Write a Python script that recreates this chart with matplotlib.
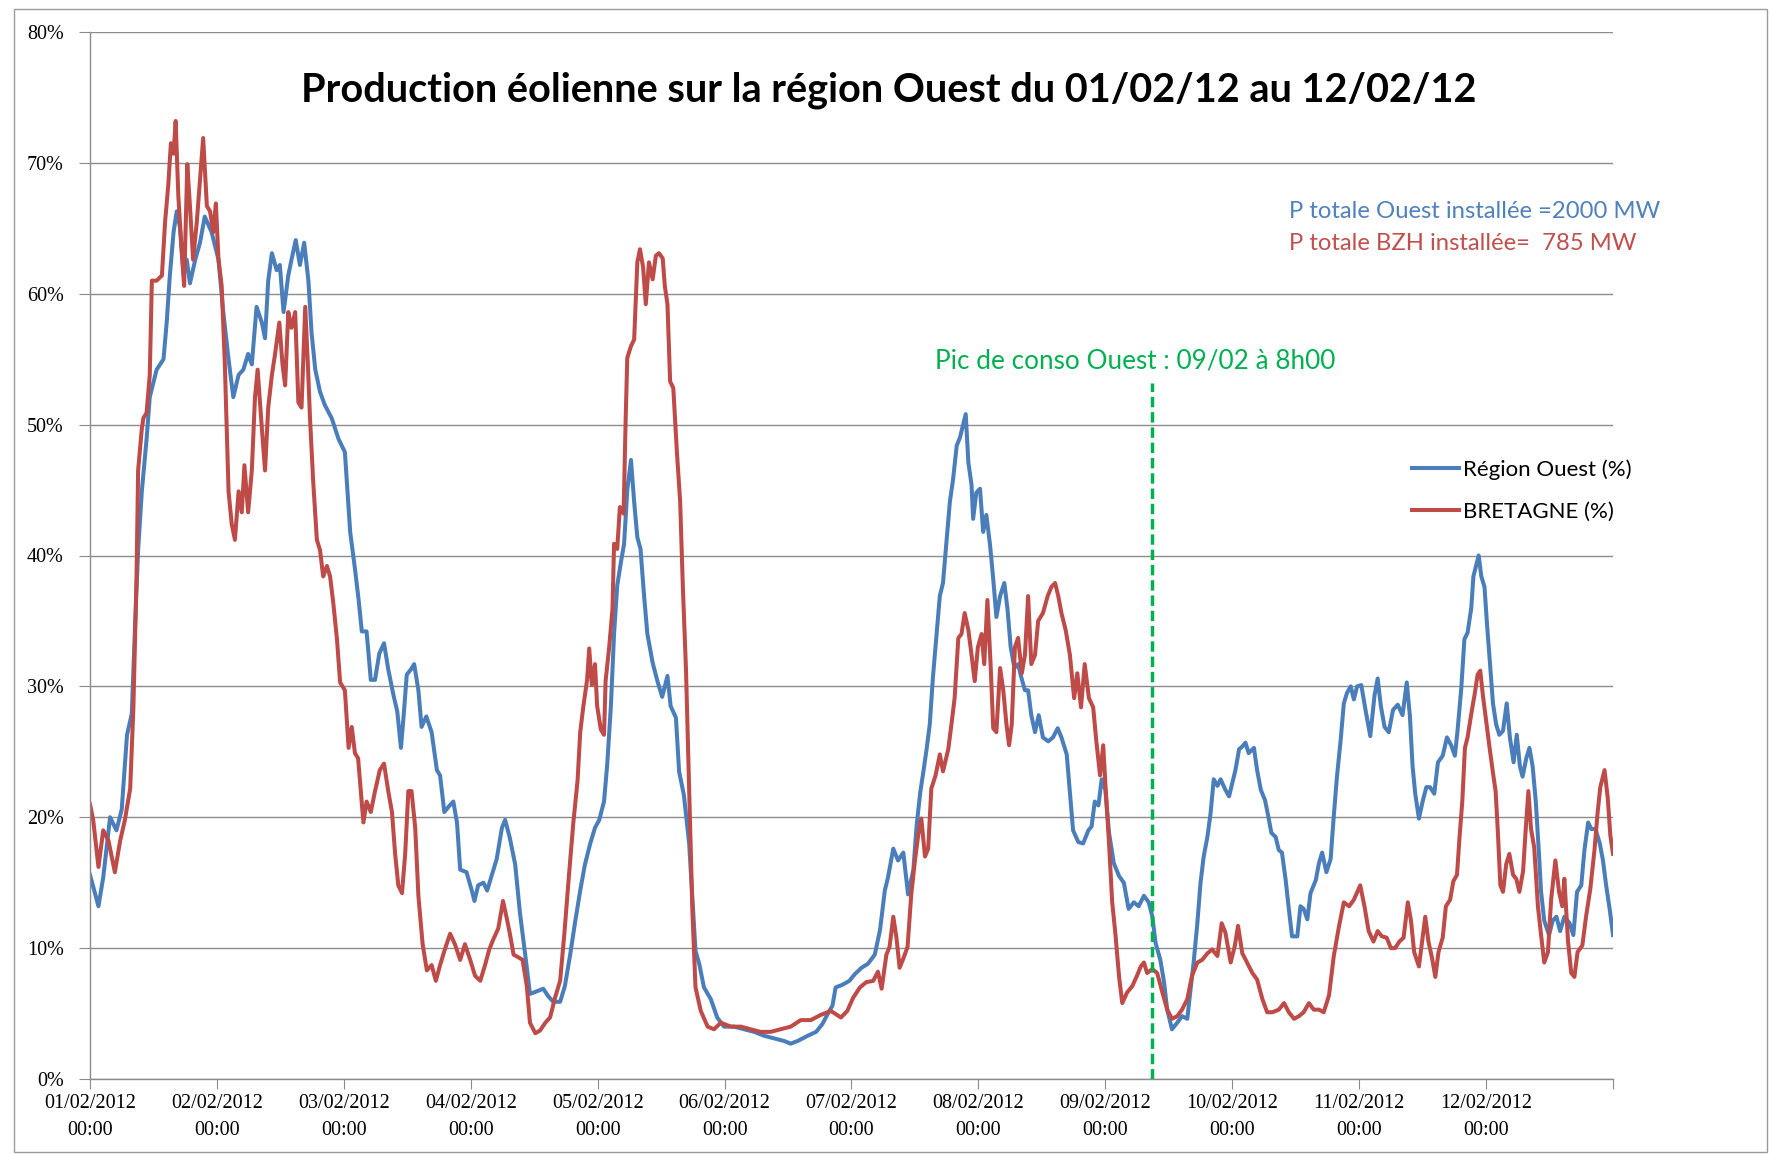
import matplotlib
matplotlib.use("Agg")
import matplotlib.pyplot as plt
from matplotlib.patches import Rectangle

# Heures depuis le 01/02/2012 00:00 et production en % de la puissance installée
h_ouest = [0, 1.6, 2.5, 3.8, 5, 6, 7, 7.9, 8.5, 9.1, 9.8, 10.7, 11.3, 12.6, 13.9, 14.5, 15.1, 15.8, 16.4, 17,
           17.7, 18.3, 18.9, 19.9, 20.8, 21.7, 23, 24.3, 25.2, 26.2, 27.1, 28.1, 29, 29.9, 30.6, 31.5, 32.5, 33.1,
           33.7, 34.4, 35.3, 35.9, 36.6, 37.5, 38.1, 38.9, 39.7, 40.5, 41.3, 41.9, 42.6, 43.5, 44.4, 45.7, 47,
           48.2, 49.2, 50.1, 50.8, 51.4, 52.3, 53.1, 53.9, 54.7, 55.6, 56.4, 57.4, 58.1, 58.8, 59.3, 59.9, 60.7,
           61.3, 62.1, 62.7, 63.6, 64.6, 65.6, 66.2, 67, 67.8, 68.7, 69.4, 70, 71.2, 72.2, 72.7, 73.4, 74.4, 75.1,
           76, 76.9, 77.9, 78.5, 79.4, 80.4, 81.3, 82.3, 83.2, 84.5, 85.7, 86.7, 87.6, 88.9, 89.8, 90.8, 91.7,
           92.7, 93.6, 94.6, 95.5, 96.3, 97.2, 97.8, 98.5, 99.1, 99.7, 100.4, 101, 101.6, 102.3, 102.9, 103.5,
           104.1, 104.8, 105.4, 106.4, 107.3, 108.2, 109.2, 109.8, 110.8, 111.4, 112.3, 113.3, 113.9, 114.5,
           115.2, 116.1, 117.4, 118.6, 119.9, 121.8, 123.7, 125.6, 127.5, 129.4, 131.3, 132.5, 133.8, 135.7,
           137.3, 138.5, 139.8, 140.4, 141, 142.3, 143.6, 144.6, 145.9, 147.1, 148.4, 149.4, 150.3, 150.9, 151.9,
           152.8, 153.8, 154.7, 155.7, 156.3, 157, 157.6, 158.2, 158.8, 159.4, 160.1, 160.7, 161.3, 162, 162.6,
           163.2, 163.9, 164.5, 165.1, 165.6, 166.1, 166.7, 167, 167.6, 168.3, 168.9, 169.5, 170.2, 170.8, 171.4,
           172.1, 172.9, 173.5, 174.1, 174.8, 175.5, 176.1, 176.8, 177.4, 178, 178.7, 179.4, 180.2, 181.2, 182.1,
           183, 183.7, 184.7, 185.3, 185.9, 186.9, 187.8, 188.8, 189.4, 190, 190.7, 191.3, 192, 192.7, 193.6,
           194.6, 195.5, 196.4, 197.4, 198.3, 199.3, 200.2, 200.9, 201.5, 202.4, 203.1, 203.7, 204.6, 205.6,
           206.5, 207.5, 208.1, 208.7, 209.4, 210, 210.6, 211.3, 211.9, 212.5, 213.2, 213.8, 214.7, 215.4, 216,
           216.6, 217.3, 217.9, 218.5, 219.1, 220.1, 220.7, 221.4, 222.2, 222.8, 223.4, 224.2, 224.8, 225.4,
           226.1, 226.7, 227.3, 228.3, 228.9, 229.5, 230.2, 230.8, 231.8, 232.4, 233, 233.8, 234.6, 235.2, 235.8,
           236.5, 237.1, 237.7, 238.4, 239, 239.6, 240.4, 241.2, 242.1, 242.9, 243.5, 244.1, 244.8, 245.6, 246.4,
           247.3, 248.2, 249, 249.6, 250.1, 250.6, 251.3, 252, 252.7, 253.4, 254.2, 254.9, 255.8, 256.6, 257.4,
           258.1, 258.6, 259.3, 259.9, 260.5, 261.2, 261.6, 262.1, 262.6, 263.1, 263.7, 264.2, 264.6, 265.3,
           265.9, 266.5, 267.2, 267.9, 268.5, 269.2, 269.8, 270.4, 270.9, 271.6, 272.2, 272.8, 273.4, 274, 274.4,
           275, 275.9, 276.6, 277.3, 278, 278.8, 279.8, 280.5, 281.2, 282, 282.6, 283.3, 283.9, 284.7, 285.5,
           286.1, 286.7, 287.4, 288]
ouest = [15.6, 13.2, 15.4, 20.0, 19.0, 20.6, 26.3, 27.9, 34.4, 40.4, 44.9, 48.9, 52.1, 54.2, 55.0, 57.8, 61.4,
         64.7, 66.3, 65.1, 61.4, 62.6, 60.8, 62.6, 63.9, 65.9, 64.7, 62.6, 58.6, 55.0, 52.1, 53.8, 54.2, 55.4, 54.6,
         59.0, 57.8, 56.6, 61.0, 63.1, 61.8, 62.2, 58.6, 61.4, 62.6, 64.1, 62.2, 63.9, 61.0, 57.0, 54.2, 52.5, 51.5,
         50.5, 48.9, 47.9, 41.8, 39.0, 36.6, 34.2, 34.2, 30.5, 30.5, 32.5, 33.3, 31.3, 29.3, 28.1, 25.3, 27.7, 30.9,
         31.3, 31.7, 29.7, 26.9, 27.7, 26.5, 23.6, 23.2, 20.4, 20.8, 21.2, 19.6, 16.0, 15.8, 14.4, 13.6, 14.8, 15.0,
         14.4, 15.6, 16.8, 19.2, 19.8, 18.4, 16.4, 12.7, 9.5, 6.5, 6.7, 6.9, 6.3, 5.9, 5.9, 7.1, 9.5, 11.9, 14.4,
         16.4, 18.0, 19.2, 19.8, 21.2, 24.0, 28.5, 34.0, 37.7, 39.5, 40.9, 45.0, 47.3, 44.1, 41.4, 40.5, 36.8, 34.0,
         31.8, 30.4, 29.2, 30.8, 28.5, 27.6, 23.5, 21.7, 18.0, 13.9, 9.8, 8.8, 7.0, 6.1, 4.7, 4.0, 4.0, 3.8, 3.6,
         3.3, 3.1, 2.9, 2.7, 2.9, 3.3, 3.6, 4.2, 5.2, 5.6, 7.0, 7.2, 7.5, 8.0, 8.5, 8.8, 9.5, 11.4, 14.4, 15.4,
         17.6, 16.7, 17.3, 14.1, 16.0, 19.3, 21.9, 23.5, 25.2, 27.1, 30.7, 34.0, 36.9, 37.9, 41.2, 44.1, 45.8,
         48.4, 49.0, 50.0, 50.8, 47.1, 45.4, 42.8, 44.8, 45.1, 41.8, 43.1, 40.8, 38.2, 35.3, 36.9, 37.9, 35.9,
         33.0, 31.4, 31.7, 30.7, 29.7, 29.7, 27.8, 26.5, 27.8, 26.1, 25.8, 26.1, 26.8, 26.1, 24.8, 21.9, 19.0,
         18.1, 18.0, 19.0, 19.3, 21.2, 20.9, 22.9, 22.1, 18.8, 16.5, 15.5, 15.0, 13.0, 13.5, 13.2, 14.0, 13.5,
         12.4, 10.4, 9.1, 7.4, 5.3, 3.8, 4.3, 4.8, 4.6, 6.8, 8.9, 11.9, 15.0, 17.0, 18.5, 20.3, 22.9, 22.4, 22.9,
         22.1, 21.6, 22.6, 23.6, 25.2, 25.4, 25.7, 24.9, 25.3, 23.6, 22.1, 21.3, 20.1, 18.8, 18.5, 17.5, 17.3,
         15.2, 13.0, 10.9, 10.9, 13.2, 13.0, 12.2, 14.2, 15.2, 16.5, 17.3, 15.8, 16.8, 20.1, 23.1, 25.9, 28.7,
         29.5, 30.0, 29.0, 30.0, 30.1, 28.2, 26.2, 29.3, 30.6, 28.5, 26.9, 26.5, 28.2, 28.6, 27.8, 30.3, 27.7,
         23.9, 21.8, 19.9, 21.2, 22.3, 22.3, 21.8, 24.2, 24.7, 26.1, 25.5, 24.7, 26.6, 29.8, 33.6, 34.1, 36.0,
         38.4, 39.2, 40.0, 38.4, 37.6, 34.6, 32.5, 28.7, 27.1, 26.3, 26.6, 28.7, 26.1, 24.2, 26.3, 23.9, 23.1,
         24.5, 25.3, 23.9, 21.2, 17.2, 14.3, 12.1, 11.0, 12.1, 12.4, 11.3, 12.4, 11.9, 11.0, 14.3, 14.8, 17.5,
         19.6, 19.1, 19.1, 18.0, 16.7, 14.8, 12.9, 11.0]

h_bzh = [0, 0.6, 1.6, 2.5, 3.5, 4.7, 5.7, 6.6, 7.6, 8.2, 8.8, 9.1, 9.8, 10.1, 10.7, 11.3, 11.7, 12.6, 13.6, 14.2,
         14.8, 15.3, 15.8, 16.2, 16.7, 17.3, 17.8, 18.4, 18.9, 19.5, 20.2, 20.8, 21.4, 22.1, 22.7, 23.3, 23.8,
         24.3, 24.9, 25.5, 26.2, 26.8, 27.4, 28.1, 28.7, 29.2, 29.9, 30.6, 31.2, 31.7, 32.5, 33.1, 33.7, 34.4, 35,
         35.8, 36.4, 36.9, 37.5, 38.1, 38.8, 39.4, 40, 40.7, 41.2, 41.6, 42.2, 42.9, 43.5, 44.1, 44.8, 45.4, 46,
         46.7, 47.3, 48.2, 48.9, 49.5, 50.1, 50.7, 51.7, 52.3, 53.1, 53.9, 54.8, 55.6, 56.4, 57.1, 57.7, 58.3,
         59, 59.6, 60.2, 60.8, 61.5, 62.1, 62.9, 63.7, 64.6, 65.4, 66.2, 67.1, 68.1, 69, 70, 70.9, 71.9, 72.8,
         73.8, 74.7, 75.5, 76.3, 77.2, 78.1, 78.8, 79.4, 80.1, 81, 81.8, 82.6, 83.2, 84.2, 85.1, 86.1, 87, 88,
         88.9, 89.7, 90.5, 91.4, 92.2, 92.7, 93.3, 94, 94.4, 94.9, 95.5, 95.9, 96.6, 97.2, 97.5, 98.2, 98.8,
         99.1, 99.7, 100.2, 100.9, 101.3, 101.6, 102.3, 102.9, 103.5, 104, 104.6, 105.1, 105.7, 106.4, 107,
         107.6, 108.3, 108.7, 109.2, 109.7, 110.3, 111, 111.6, 112.1, 112.7, 113.3, 113.9, 114.5, 115.5, 116.8,
         118, 119.3, 121.2, 123.1, 124.9, 126.8, 128.7, 130.6, 132.5, 134.4, 136.3, 138.2, 140.1, 142, 143.2,
         144.3, 145.6, 146.8, 148.1, 149, 149.7, 150.6, 151.2, 151.9, 152.5, 153.1, 153.8, 154.6, 155.3, 156,
         156.6, 157.2, 157.9, 158.5, 159.1, 159.9, 160.7, 161.3, 162.3, 162.9, 163.5, 164.2, 164.8, 165.4, 166.1,
         166.7, 167.3, 167.9, 168.6, 169.1, 169.7, 170.3, 170.8, 171.4, 172.1, 172.7, 173.3, 173.8, 174.3, 174.9,
         175.5, 176.2, 176.8, 177.4, 178, 178.7, 179.3, 180.2, 181.1, 181.8, 182.5, 183.1, 183.7, 184.5, 185.3,
         186.1, 186.7, 187.4, 188.1, 188.9, 189.7, 190.3, 191, 191.6, 192, 192.7, 193.3, 193.9, 194.6, 195.2,
         196.1, 197.1, 198, 198.7, 199.3, 199.9, 200.9, 201.8, 202.8, 203.7, 204.6, 205.6, 206.5, 207.5, 208.4,
         209.4, 210.3, 211.3, 212.2, 213.2, 214, 214.7, 215.7, 216.5, 217.1, 217.9, 218.8, 219.8, 220.7, 221.7,
         222.6, 223.6, 224.8, 225.8, 226.7, 227.7, 228.6, 229.5, 230.5, 231.4, 232.4, 233.3, 234.3, 235.2, 236.2,
         237.1, 238.1, 239, 240.2, 241, 241.8, 242.7, 243.5, 244.3, 245.2, 246, 246.8, 247.6, 248.4, 249.2,
         249.8, 250.4, 251.3, 251.9, 252.5, 253.1, 253.8, 254.4, 255, 255.8, 256.4, 257.2, 257.8, 258.5, 259,
         259.5, 260, 260.5, 261.2, 261.8, 262.4, 262.9, 263.4, 264, 264.6, 265.3, 265.8, 266.2, 266.7, 267.2,
         267.8, 268.4, 269.1, 269.7, 270.3, 271, 271.5, 272, 272.5, 273.1, 273.8, 274.4, 275, 275.7, 276.3,
         277.1, 277.8, 278.4, 278.8, 279.5, 280.1, 280.7, 281.3, 282.2, 282.9, 283.7, 284.5, 285.1, 285.6, 286.4,
         287, 287.5, 288]
bzh = [21.0, 19.8, 16.2, 19.0, 18.2, 15.8, 18.2, 19.8, 22.2, 28.3, 38.4, 46.5, 49.7, 50.5, 50.9, 53.8, 61.0, 61.0,
       61.4, 65.5, 68.3, 71.5, 70.7, 73.2, 67.5, 63.5, 60.6, 69.9, 66.7, 62.6, 65.5, 68.7, 71.9, 66.7, 66.3, 64.7,
       66.9, 62.6, 60.6, 54.6, 44.9, 42.4, 41.2, 44.9, 43.3, 46.9, 43.3, 46.5, 52.1, 54.2, 49.7, 46.5, 51.3, 53.8,
       55.4, 57.8, 54.6, 53.0, 58.6, 57.4, 58.6, 51.7, 51.3, 59.0, 54.6, 50.5, 45.7, 41.2, 40.4, 38.4, 39.2, 38.4,
       36.4, 33.6, 30.3, 29.7, 25.3, 26.9, 24.9, 24.5, 19.6, 21.2, 20.4, 22.0, 23.6, 24.1, 22.0, 20.4, 17.2, 14.8,
       14.2, 17.2, 22.0, 22.0, 19.2, 14.0, 10.3, 8.3, 8.7, 7.5, 8.7, 9.9, 11.1, 10.3, 9.1, 10.3, 9.1, 7.9, 7.5,
       8.7, 9.9, 10.7, 11.5, 13.6, 12.3, 11.1, 9.5, 9.3, 9.1, 7.1, 4.3, 3.5, 3.7, 4.3, 4.7, 6.3, 7.5, 11.1, 15.2,
       19.6, 22.8, 26.5, 28.5, 30.5, 32.9, 30.1, 31.7, 28.5, 26.7, 26.3, 30.4, 33.1, 35.9, 40.9, 40.5, 43.7, 43.2,
       50.5, 55.1, 56.0, 56.5, 62.4, 63.4, 62.0, 59.2, 62.4, 61.1, 62.9, 63.1, 62.7, 60.6, 59.2, 53.3, 52.8, 47.8,
       44.1, 37.7, 31.3, 22.1, 13.0, 7.0, 5.2, 4.0, 3.8, 4.3, 4.0, 4.0, 3.8, 3.6, 3.6, 3.8, 4.0, 4.5, 4.5, 4.9,
       5.2, 4.7, 5.2, 6.2, 7.0, 7.4, 7.5, 8.2, 6.9, 9.5, 10.1, 12.4, 10.8, 8.5, 9.2, 10.1, 14.1, 16.7, 18.6, 19.9,
       17.0, 17.6, 22.2, 23.2, 24.8, 23.5, 25.2, 27.1, 29.1, 33.7, 34.0, 35.6, 34.3, 32.4, 30.4, 33.0, 34.0, 31.7,
       36.6, 31.7, 26.8, 26.5, 31.4, 29.7, 27.1, 25.5, 27.1, 33.0, 33.7, 31.0, 32.4, 36.9, 31.7, 32.4, 35.0, 35.6,
       36.9, 37.6, 37.9, 36.9, 35.6, 34.3, 32.4, 29.1, 31.0, 28.4, 31.7, 29.1, 28.4, 25.8, 23.2, 25.5, 22.6, 18.0,
       13.5, 11.1, 7.8, 5.8, 6.6, 7.1, 7.9, 8.6, 8.9, 8.1, 8.4, 8.1, 6.6, 5.3, 4.6, 4.8, 5.3, 6.1, 7.9, 8.9, 9.1,
       9.6, 9.9, 9.4, 11.9, 11.2, 8.9, 10.2, 11.7, 9.6, 8.9, 8.1, 7.6, 6.1, 5.1, 5.1, 5.3, 5.8, 5.1, 4.6, 4.8,
       5.1, 5.8, 5.3, 5.3, 5.1, 6.4, 9.4, 11.7, 13.5, 13.2, 13.7, 14.8, 13.2, 11.3, 10.5, 11.3, 10.9, 10.8, 10.0,
       10.0, 10.5, 10.8, 13.5, 12.1, 9.7, 8.6, 10.5, 12.4, 10.5, 9.2, 7.8, 9.7, 10.8, 13.2, 13.7, 15.1, 15.6,
       18.6, 21.2, 25.3, 26.1, 27.9, 29.3, 30.9, 31.2, 29.3, 27.4, 25.5, 23.4, 22.0, 19.1, 14.8, 14.3, 16.4,
       17.2, 15.6, 15.3, 14.3, 15.9, 19.1, 22.0, 19.1, 17.7, 13.2, 11.0, 8.9, 9.7, 13.7, 16.7, 14.3, 13.2, 15.3,
       10.5, 8.1, 7.8, 9.7, 10.2, 12.4, 14.5, 17.5, 20.4, 22.3, 23.6, 21.5, 18.6, 17.2]

# Pic de consommation : 09/02 vers 8h00 (position)
h_pic = 200.8
pic_haut = 53.2

jours = ["01/02/2012", "02/02/2012", "03/02/2012", "04/02/2012", "05/02/2012", "06/02/2012",
         "07/02/2012", "08/02/2012", "09/02/2012", "10/02/2012", "11/02/2012", "12/02/2012"]

W, H = 1771, 1154
fig = plt.figure(figsize=(W / 100, H / 100), dpi=100)
ax = fig.add_axes([90 / W, 75 / H, (1613 - 90) / W, (1079 - 32) / H])

gris = "#8c8c8c"
bleu = "#4a7ebb"
rouge = "#be4b48"
vert = "#00b050"

ax.plot(h_ouest, ouest, color=bleu, lw=2.9, label="Région Ouest (%)", solid_joinstyle="round")
ax.plot(h_bzh, bzh, color=rouge, lw=2.9, label="BRETAGNE (%)", solid_joinstyle="round")
ax.plot([h_pic, h_pic], [0, pic_haut], color=vert, lw=2.5, dashes=(3.0, 1.4))

ax.set_xlim(0, 288)
ax.set_ylim(0, 80)
ax.set_yticks(range(0, 81, 10))
ax.set_yticklabels([f"{v}%" for v in range(0, 81, 10)], family="Liberation Serif", fontsize=14.5)
ax.set_xticks(range(0, 289, 24))
ax.set_xticklabels([j + "\n00:00" for j in jours] + [""], family="Liberation Serif",
                   fontsize=14.5, linespacing=1.55)

ax.grid(axis="y", color=gris, lw=1)
ax.set_axisbelow(True)
for s in ["top", "right"]:
    ax.spines[s].set_visible(False)
for s in ["left", "bottom"]:
    ax.spines[s].set_color(gris)
    ax.spines[s].set_linewidth(1)
ax.tick_params(axis="x", direction="out", length=7, color=gris, pad=4)
ax.tick_params(axis="y", direction="out", length=8, color=gris, pad=11)

# Titre et annotations
fig.text(889 / W, 1 - 90 / H, "Production éolienne sur la région Ouest du 01/02/12 au 12/02/12",
         ha="center", va="center", fontsize=28.5, fontweight="bold", family="Lato")
fig.text(1289 / W, 1 - 211 / H, "P totale Ouest installée =2000 MW", color="#4f81bd",
         ha="left", va="center", fontsize=17.2, family="Lato")
fig.text(1289 / W, 1 - 244 / H, "P totale BZH installée=  785 MW", color="#c0504d",
         ha="left", va="center", fontsize=17.2, family="Lato")
fig.text(935 / W, 1 - 361 / H, "Pic de conso Ouest : 09/02 à 8h00", color=vert,
         ha="left", va="center", fontsize=18.8, family="Lato")

ax.legend(loc="upper left", bbox_to_anchor=(1412 / W, 1 - 459 / H), bbox_transform=fig.transFigure,
          frameon=False, prop=dict(family="Lato", size=16), handlelength=2.1, handletextpad=0.2,
          labelspacing=1.0, borderpad=0, borderaxespad=0)

# Cadre du graphique
fig.patches.append(Rectangle((13.5 / W, 2 / H), (1767 - 13.5) / W, (1145 - 2) / H,
                             transform=fig.transFigure, fill=False, edgecolor="#9a9a9a", lw=1))

fig.savefig("out.png", dpi=100)
